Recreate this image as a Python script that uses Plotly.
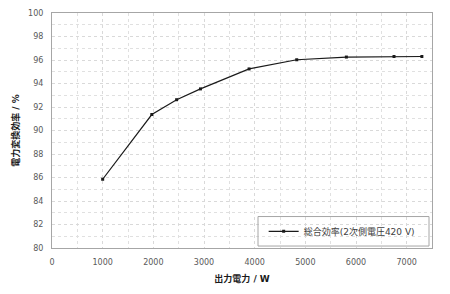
import plotly.graph_objects as go

power_w = [1000, 1970, 2460, 2930, 3890, 4830, 5810, 6750, 7300]
efficiency = [85.85, 91.36, 92.62, 93.54, 95.24, 96.02, 96.25, 96.3, 96.3]
series_name = "総合効率(2次側電圧420 V)"
x_title = "出力電力 / W"
y_title = "電力変換効率 / %"

FONT = "DejaVu Sans, Noto Sans CJK JP, sans-serif"

fig = go.Figure()
fig.add_trace(go.Scatter(
    x=power_w, y=efficiency, mode="lines+markers", name=series_name,
    line=dict(color="#1a1a1a", width=1.2),
    marker=dict(symbol="square", size=3, color="#1a1a1a"),
))

grid = dict(showgrid=True, gridcolor="#d9d9d9", gridwidth=1, griddash="dot")

fig.update_layout(
    width=450, height=294,
    margin=dict(l=52, r=18, t=9, b=46),
    paper_bgcolor="white", plot_bgcolor="white",
    font=dict(family=FONT, size=8, color="#595959"),
    showlegend=True,
    legend=dict(
        x=0.557, y=(248 - 231) / 239, xanchor="left", yanchor="middle",
        bgcolor="rgba(0,0,0,0)", borderwidth=0,
        font=dict(size=9, color="#404040"),
        itemwidth=30,
    ),
    xaxis=dict(
        range=[0, 7500], tickvals=[0, 1000, 2000, 3000, 4000, 5000, 6000, 7000],
        ticks="", ticklabelstandoff=6,
        showline=True, linecolor="#a6a6a6", linewidth=1, mirror=True,
        minor=dict(dtick=500, showgrid=True, gridcolor="#e0e0e0", griddash="dot"),
        title=dict(text=f"<b>{x_title}</b>", font=dict(size=9, color="#1a1a1a"), standoff=10),
        zeroline=False, **grid,
    ),
    yaxis=dict(
        range=[80, 100], dtick=2, ticks="", ticklabelstandoff=6,
        showline=True, linecolor="#a6a6a6", linewidth=1, mirror=True,
        minor=dict(dtick=1, showgrid=True, gridcolor="#e0e0e0", griddash="dot"),
        title=dict(text=f"<b>{y_title}</b>", font=dict(size=9, color="#1a1a1a"), standoff=6),
        zeroline=False, **grid,
    ),
    shapes=[dict(type="rect", xref="paper", yref="paper",
                 x0=(258 - 52) / 380, x1=(429 - 52) / 380,
                 y0=(248 - 246) / 239, y1=(248 - 216) / 239,
                 line=dict(color="#a6a6a6", width=1), fillcolor="rgba(0,0,0,0)")],
)

fig.write_html("out.html")
